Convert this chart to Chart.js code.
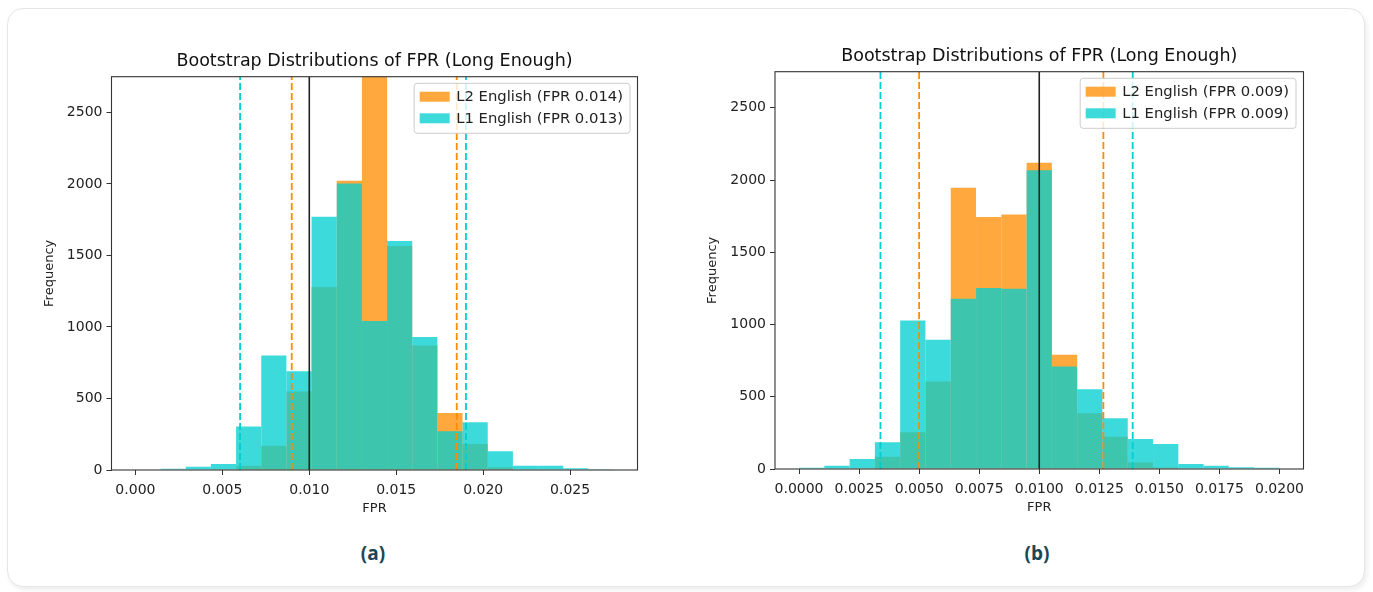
<!DOCTYPE html>
<html>
<head>
<meta charset="utf-8">
<script src="https://cdn.jsdelivr.net/npm/chart.js@4.4.1/dist/chart.umd.min.js"></script>
<style>
  html, body { margin: 0; padding: 0; background: #fff; }
  body { width: 1373px; height: 592px; position: relative; overflow: hidden; }
  .card { position: absolute; left: 7px; top: 8px; width: 1356px; height: 577px;
          border: 1px solid #e6e6e6; border-radius: 16px; background: #fff;
          box-shadow: 2px 3px 5px rgba(0,0,0,0.07); }
  canvas { position: absolute; }
  .cap { position: absolute; top: 540px; width: 80px; margin-left: -40px; text-align: center;
         font-family: "Open Sans", "Noto Sans", sans-serif; font-weight: 700; font-size: 19px; color: #1b4657; }
</style>
</head>
<body>
<div class="card"></div>
<canvas id="chartA" width="640" height="495" style="left:20px;top:25px"></canvas>
<canvas id="chartB" width="645" height="499" style="left:685px;top:20px"></canvas>
<div class="cap" style="left:373px">(a)</div>
<div class="cap" style="left:1037px">(b)</div>
<script>
const titleText = 'Bootstrap Distributions of FPR (Long Enough)';
const yTicks = [0, 500, 1000, 1500, 2000, 2500];
const refLine = 0.010;

// (a) bin centres and counts
const binsA = [0.000724, 0.002171, 0.003618, 0.005066, 0.006513, 0.007961, 0.009408, 0.010855, 0.012303, 0.013750,
               0.015197, 0.016645, 0.018092, 0.019539, 0.020987, 0.022434, 0.023882, 0.025329, 0.026776];
const l2CountsA = [0, 0, 0, 5, 30, 170, 549, 1280, 2023, 2900, 1567, 871, 399, 182, 20, 0, 0, 0, 0];
const l1CountsA = [0, 8, 23, 42, 304, 801, 691, 1771, 2004, 1042, 1602, 930, 271, 334, 131, 30, 30, 12, 2];
const xTicksA = [0.000, 0.005, 0.010, 0.015, 0.020, 0.025];
const legendA = ['L2 English (FPR 0.014)', 'L1 English (FPR 0.013)'];
const l2LinesA = [0.00899, 0.01848];
const l1LinesA = [0.00602, 0.01901];

// (b) bin centres and counts
const binsB = [0.000526, 0.001579, 0.002632, 0.003684, 0.004737, 0.005789, 0.006842, 0.007895, 0.008947, 0.010000,
               0.011053, 0.012105, 0.013158, 0.014211, 0.015263, 0.016316, 0.017368, 0.018421, 0.019474];
const l2CountsB = [0, 0, 5, 85, 254, 605, 1946, 1745, 1761, 2119, 790, 386, 224, 45, 10, 0, 0, 0, 0];
const l1CountsB = [9, 23, 69, 185, 1028, 894, 1179, 1253, 1248, 2068, 709, 552, 351, 208, 173, 35, 23, 12, 9];
const xTicksB = [0.0000, 0.0025, 0.0050, 0.0075, 0.0100, 0.0125, 0.0150, 0.0175, 0.0200];
const legendB = ['L2 English (FPR 0.009)', 'L1 English (FPR 0.009)'];
const l2LinesB = [0.0050, 0.01267];
const l1LinesB = [0.00339, 0.01389];

const FONT = "'DejaVu Sans', sans-serif";
const ORANGE = 'rgba(255,140,0,0.76)';
const CYAN = 'rgba(0,206,209,0.76)';

function pts(bins, counts) {
  return bins.map((x, i) => ({x: x, y: counts[i]}));
}

function vline(ctx, area, x, color, dash, w) {
  ctx.save();
  ctx.strokeStyle = color;
  ctx.lineWidth = w;
  ctx.setLineDash(dash);
  ctx.beginPath();
  ctx.moveTo(x, area.bottom);
  ctx.lineTo(x, area.top);
  ctx.stroke();
  ctx.restore();
}

function overlay(d) {
  return {
    id: 'overlay',
    afterDatasetsDraw(chart) {
      const ctx = chart.ctx, area = chart.chartArea, xs = chart.scales.x;
      ctx.save();
      ctx.beginPath();
      ctx.rect(area.left, area.top, area.right - area.left, area.bottom - area.top);
      ctx.clip();
      d.l2Lines.forEach(v => vline(ctx, area, xs.getPixelForValue(v), '#ff8c00', [7, 3], 1.8));
      d.l1Lines.forEach(v => vline(ctx, area, xs.getPixelForValue(v), '#00ced1', [7, 3], 1.8));
      vline(ctx, area, xs.getPixelForValue(refLine), '#222', [], 1.6);
      ctx.restore();

      // frame
      ctx.save();
      ctx.strokeStyle = '#333';
      ctx.lineWidth = 1.1;
      ctx.strokeRect(area.left, area.top, area.right - area.left, area.bottom - area.top);
      ctx.restore();

      // legend
      ctx.save();
      ctx.font = '14.8px ' + FONT;
      const tw = Math.max(...d.legend.map(t => ctx.measureText(t).width));
      const bw = 42 + tw + 7, bh = 50;
      const lx = area.right - 7.5 - bw, ly = area.top + 6.6;
      ctx.fillStyle = 'rgba(255,255,255,0.8)';
      ctx.strokeStyle = '#cccccc';
      ctx.lineWidth = 1;
      ctx.beginPath();
      ctx.roundRect(lx, ly, bw, bh, 3);
      ctx.fill();
      ctx.stroke();
      const cols = [ORANGE, CYAN];
      d.legend.forEach((t, i) => {
        const cy = ly + 13.4 + i * 21.6;
        ctx.fillStyle = cols[i];
        ctx.fillRect(lx + 5.5, cy - 5, 30, 10);
        ctx.fillStyle = '#222';
        ctx.textBaseline = 'middle';
        ctx.fillText(t, lx + 42, cy + 0.5);
      });
      ctx.restore();
    }
  };
}

function build(id, d) {
  new Chart(document.getElementById(id), {
    type: 'bar',
    data: {
      datasets: [
        {label: d.legend[0], data: pts(d.bins, d.l2), backgroundColor: ORANGE, order: 1},
        {label: d.legend[1], data: pts(d.bins, d.l1), backgroundColor: CYAN, order: 0}
      ]
    },
    options: {
      responsive: false,
      animation: false,
      devicePixelRatio: 1,
      layout: {padding: {left: 0, right: d.padRight, top: 0, bottom: 0}},
      datasets: {bar: {grouped: false, barPercentage: 1, categoryPercentage: 1, borderWidth: 0, inflateAmount: 0, clip: 0}},
      plugins: {
        legend: {display: false},
        tooltip: {enabled: false},
        title: {display: true, text: titleText, color: '#111', fullSize: false,
                font: {family: FONT, size: 17.5, weight: 'normal', lineHeight: 1.2},
                padding: {top: d.titleTop, bottom: d.titleBottom}}
      },
      scales: {
        x: {
          type: 'linear', min: d.xMin, max: d.xMax, offset: false,
          afterBuildTicks: s => { s.ticks = d.xTicks.map(v => ({value: v})); },
          afterFit: s => { s.height = 50; },
          ticks: {callback: v => v.toFixed(d.dec), color: '#222', font: {family: FONT, size: 14},
                  padding: 7, maxRotation: 0, autoSkip: false},
          grid: {display: true, drawOnChartArea: false, drawTicks: true, tickLength: 5, color: '#333', offset: false},
          border: {display: false},
          title: {display: true, text: 'FPR', color: '#222', font: {family: FONT, size: 13, lineHeight: 1.2},
                  padding: {top: 0, bottom: d.xTitleBottom}}
        },
        y: {
          type: 'linear', min: 0, max: 2750,
          afterBuildTicks: s => { s.ticks = yTicks.map(v => ({value: v})); },
          afterFit: s => { s.width = d.yWidth; },
          ticks: {callback: v => String(v), color: '#222', font: {family: FONT, size: 14}, padding: 4},
          grid: {display: true, drawOnChartArea: false, drawTicks: true, tickLength: 5, color: '#333'},
          border: {display: false},
          title: {display: true, text: 'Frequency', color: '#222', font: {family: FONT, size: 13, lineHeight: 1.2},
                  padding: {top: d.yTitleTop, bottom: 0}}
        }
      }
    },
    plugins: [overlay(d)]
  });
}

build('chartA', {
  bins: binsA, l2: l2CountsA, l1: l1CountsA, xTicks: xTicksA, legend: legendA,
  l2Lines: l2LinesA, l1Lines: l1LinesA, dec: 3,
  xMin: -0.001375, xMax: 0.028875,
  padRight: 22.5, yWidth: 91.5, yTitleTop: 21.4,
  titleTop: 26, titleBottom: 4.7, xTitleBottom: 3.5
});

build('chartB', {
  bins: binsB, l2: l2CountsB, l1: l1CountsB, xTicks: xTicksB, legend: legendB,
  l2Lines: l2LinesB, l1Lines: l1LinesB, dec: 4,
  xMin: -0.001, xMax: 0.021,
  padRight: 26.5, yWidth: 90, yTitleTop: 19.7,
  titleTop: 26.2, titleBottom: 4.5, xTitleBottom: 3.2
});
</script>
</body>
</html>
